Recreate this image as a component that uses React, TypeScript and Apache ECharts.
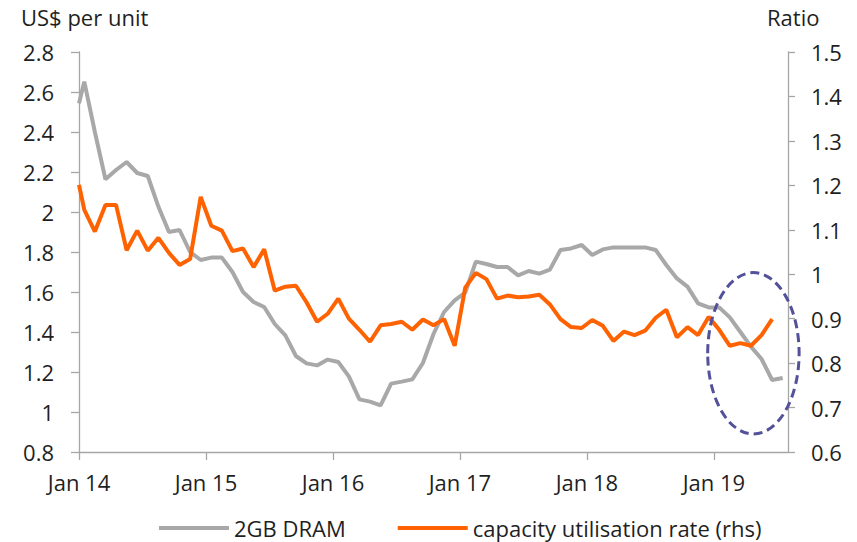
import React, { useEffect, useRef } from "react";
import * as echarts from "echarts";

// Months from Jan 2014 to Jul 2019 (monthly observations)
const yearTicks = ["Jan 14", "Jan 15", "Jan 16", "Jan 17", "Jan 18", "Jan 19"];
const tickMonths = [0, 12, 24, 36, 48, 60];

// opening values at the very start of Jan 2014
const dramOpen = 2.543;
const utilOpen = 1.201;

// 2GB DRAM, US$ per unit, Jan 2014 .. Jul 2019
const dram = [
  2.652, 2.4, 2.164, 2.21, 2.25, 2.195, 2.18, 2.027, 1.9, 1.91, 1.8, 1.76,
  1.772, 1.772, 1.7, 1.6, 1.55, 1.525, 1.44, 1.383, 1.28, 1.243, 1.233, 1.262,
  1.25, 1.178, 1.063, 1.052, 1.033, 1.142, 1.152, 1.163, 1.245, 1.39, 1.5, 1.558,
  1.597, 1.752, 1.74, 1.725, 1.725, 1.683, 1.705, 1.692, 1.712, 1.81, 1.818, 1.835,
  1.785, 1.813, 1.823, 1.823, 1.823, 1.823, 1.81, 1.735, 1.668, 1.627, 1.543, 1.523,
  1.523, 1.473, 1.4, 1.327, 1.265, 1.16, 1.17,
];

// capacity utilisation rate (rhs), Jan 2014 .. Jun 2019
const util = [
  1.145, 1.096, 1.156, 1.156, 1.054, 1.098, 1.053, 1.082, 1.048, 1.021, 1.034, 1.174,
  1.109, 1.098, 1.052, 1.058, 1.016, 1.056, 0.963, 0.972, 0.974, 0.937, 0.893, 0.911,
  0.945, 0.9, 0.875, 0.848, 0.885, 0.888, 0.893, 0.875, 0.898, 0.885, 0.899, 0.839,
  0.97, 1.003, 0.989, 0.945, 0.952, 0.948, 0.95, 0.954, 0.932, 0.899, 0.881, 0.879,
  0.897, 0.884, 0.85, 0.871, 0.863, 0.873, 0.902, 0.92, 0.858, 0.881, 0.863, 0.904,
  0.875, 0.839, 0.845, 0.839, 0.863, 0.899,
];

const FONT = "'Open Sans', 'Noto Sans', sans-serif";
const FS = 22;
const TEXT = "#1f1f1f";
const AXIS = "#a6a6a6";
const GREY = "#a8a8a8";
const ORANGE = "#ff6200";

export default function App() {
  const ref = useRef<HTMLDivElement>(null);
  useEffect(() => {
    if (!ref.current) return;
    const chart = echarts.init(ref.current, undefined, { renderer: "svg" });
    const toPts = (open: number, arr: number[]) => [
      [0, open],
      ...arr.map((v, i) => [i + 0.5, v]),
    ];
    chart.setOption({
      animation: false,
      textStyle: { fontFamily: FONT },
      grid: { left: 79, right: 69, top: 52, bottom: 90, containLabel: false },
      legend: {
        left: 159,
        top: 516,
        padding: 0,
        icon: "rect",
        itemWidth: 70,
        itemHeight: 4,
        itemGap: 52,
        textStyle: { fontFamily: FONT, fontSize: FS, color: TEXT, lineHeight: 24 },
        data: ["2GB DRAM", "capacity utilisation rate (rhs)"],
      },
      xAxis: {
        type: "value",
        min: 0,
        max: 67,
        axisLine: { show: true, lineStyle: { color: AXIS, width: 1.3 } },
        axisTick: {
          show: true,
          length: 8,
          customValues: tickMonths,
          lineStyle: { color: AXIS, width: 1.3 },
        },
        axisLabel: {
          customValues: tickMonths,
          margin: 19,
          fontSize: FS,
          color: TEXT,
          fontFamily: FONT,
          formatter: (v: number) => yearTicks[tickMonths.indexOf(Math.round(v))] ?? "",
        },
        splitLine: { show: false },
      },
      yAxis: [
        {
          type: "value",
          min: 0.8,
          max: 2.8,
          interval: 0.2,
          axisLine: { show: true, lineStyle: { color: AXIS, width: 1.3 } },
          axisTick: { show: true, length: 8, lineStyle: { color: AXIS, width: 1.3 } },
          axisLabel: { margin: 25, fontSize: FS, color: TEXT, fontFamily: FONT },
          splitLine: { show: false },
        },
        {
          type: "value",
          min: 0.6,
          max: 1.5,
          interval: 0.1,
          position: "right",
          axisLine: { show: true, lineStyle: { color: AXIS, width: 1.3 } },
          axisTick: { show: true, length: 7, lineStyle: { color: AXIS, width: 1.3 } },
          axisLabel: {
            margin: 23,
            fontSize: FS,
            color: TEXT,
            fontFamily: FONT,
            formatter: (v: number) => String(Math.round(v * 10) / 10),
          },
          splitLine: { show: false },
        },
      ],
      graphic: [
        {
          type: "text",
          left: 21,
          top: 6,
          style: { text: "US$ per unit", fontSize: FS, fontFamily: FONT, fill: TEXT },
        },
        {
          type: "text",
          left: 767,
          top: 6,
          style: { text: "Ratio", fontSize: FS, fontFamily: FONT, fill: TEXT },
        },
        {
          type: "ellipse",
          shape: { cx: 753.4, cy: 353.3, rx: 45.7, ry: 80.7 },
          style: { fill: "none", stroke: "#525199", lineWidth: 3, lineDash: [9, 5] },
          z: 10,
        },
      ],
      series: [
        {
          name: "2GB DRAM",
          type: "line",
          yAxisIndex: 0,
          data: toPts(dramOpen, dram),
          showSymbol: false,
          symbol: "none",
          lineStyle: { color: GREY, width: 4 },
          itemStyle: { color: GREY },
          z: 2,
        },
        {
          name: "capacity utilisation rate (rhs)",
          type: "line",
          yAxisIndex: 1,
          data: toPts(utilOpen, util),
          showSymbol: false,
          symbol: "none",
          lineStyle: { color: ORANGE, width: 4 },
          itemStyle: { color: ORANGE },
          z: 3,
        },
      ],
    });
    return () => chart.dispose();
  }, []);
  return <div ref={ref} style={{ width: 857, height: 542, position: "absolute", left: 0, top: 0 }} />;
}
